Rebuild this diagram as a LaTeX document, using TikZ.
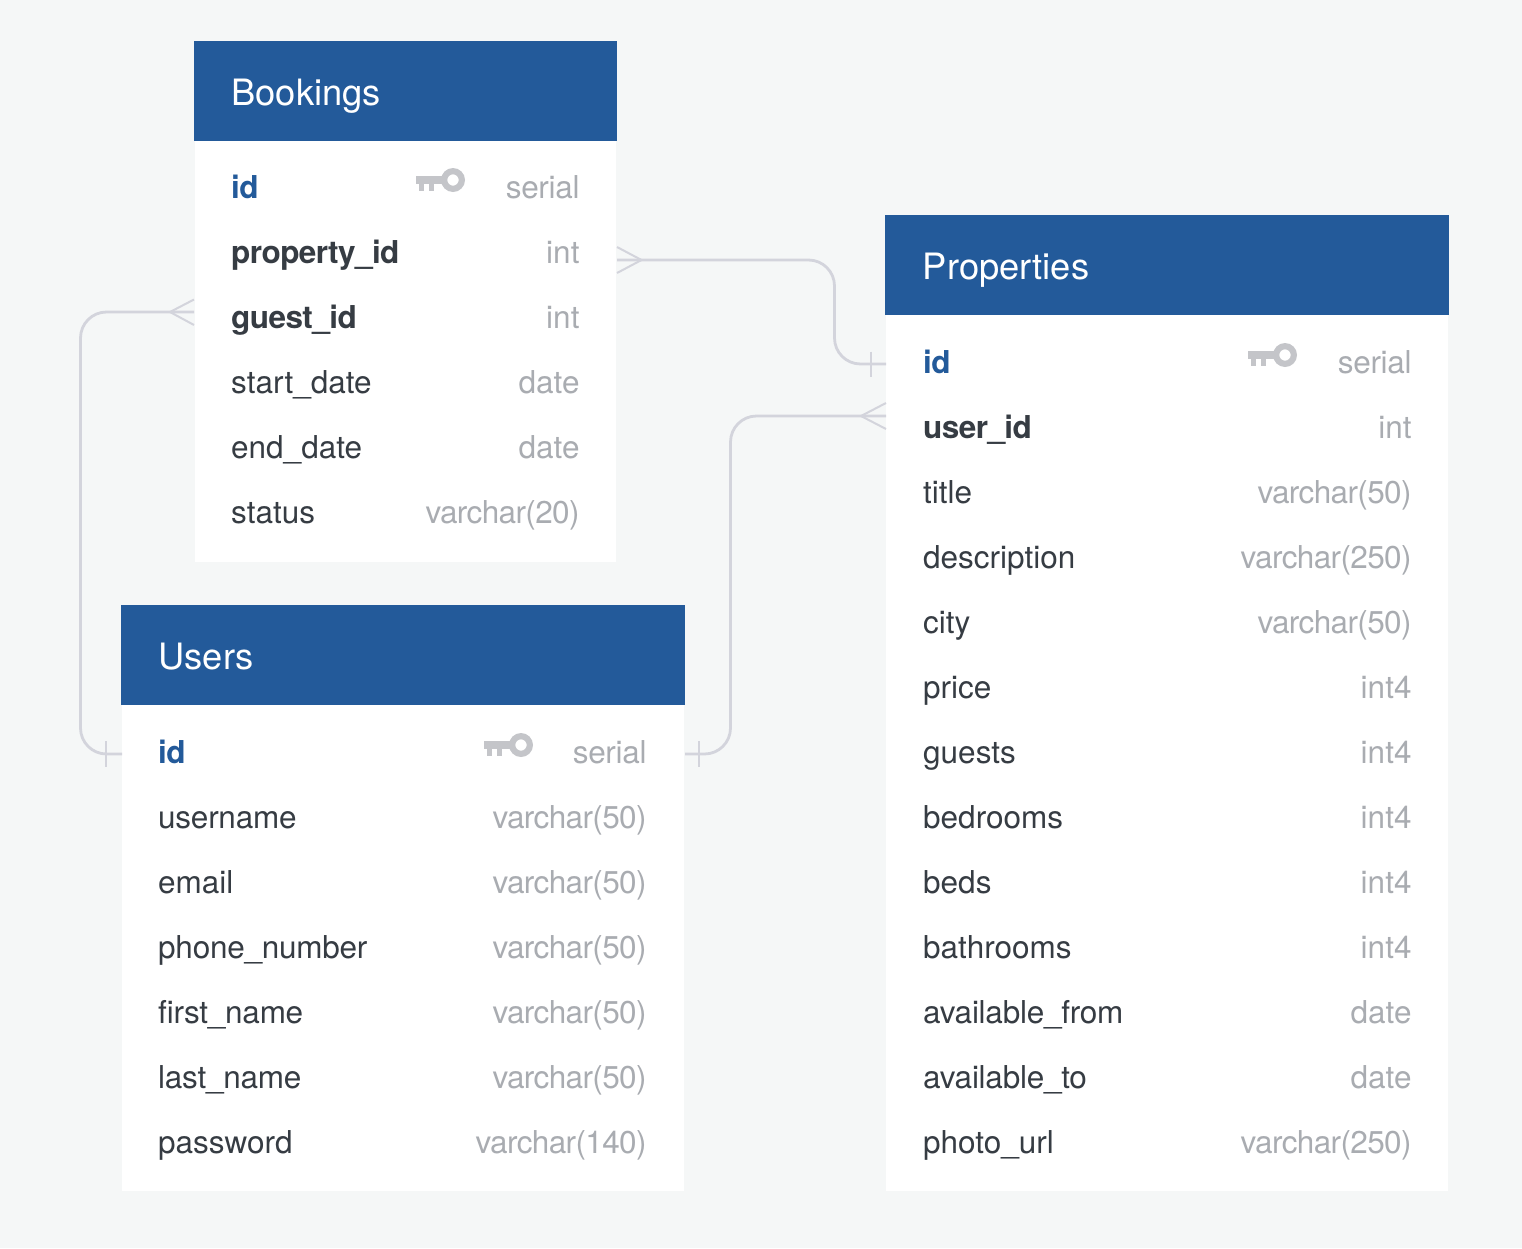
\documentclass[tikz,border=0pt]{standalone}
\usepackage{fontspec}
\setmainfont{TeX Gyre Heros}
\usetikzlibrary{positioning}
\definecolor{tablehead}{HTML}{235A9A}
\definecolor{pagebg}{HTML}{F5F7F7}
\definecolor{fieldtext}{HTML}{363C43}
\definecolor{typetext}{HTML}{A9ACB1}
\definecolor{linkline}{HTML}{D3D4DC}
\definecolor{keygrey}{HTML}{C4C5C9}
\tikzset{
    head/.style={
           rectangle,
           fill=tablehead,
           text=white,
           inner ysep=0pt,
           inner xsep=37.5pt,
           minimum height=100pt,
           text height=28pt,
           text depth=0pt,
           align=left,
           font=\fontsize{36.3}{40}\selectfont},
    tbody/.style={
           rectangle,
           fill=white,
           inner sep=0pt},
    fld/.style={
           anchor=base west,
           inner sep=0pt,
           text=fieldtext,
           font=\fontsize{31.5}{36}\selectfont},
    fk/.style={
           fld,
           font=\fontsize{31.5}{36}\selectfont\bfseries\addfontfeature{LetterSpace=-1.8}},
    pk/.style={
           fk,
           text=tablehead},
    typ/.style={
           anchor=base east,
           inner sep=0pt,
           text=typetext,
           font=\fontsize{31.5}{36}\selectfont},
    tight/.style={
           font=\fontsize{31.5}{36}\selectfont\addfontfeature{LetterSpace=#1}},
    link/.style={
           draw=linkline,
           line width=2.8pt,
           rounded corners=26pt},
    foot/.style={
           draw=linkline,
           line width=2pt},
    keyicon/.pic={
        \fill[keygrey, even odd rule] (0,0) circle (12) (0,0) circle (5.7);
        \fill[keygrey] (-37.5,-4) rectangle (-10,4);
        \fill[keygrey] (-34.5,4) rectangle (-29,11);
        \fill[keygrey] (-24.5,4) rectangle (-19,11);
    }
}

\begin{document}
\begin{tikzpicture}[x=1pt, y=-1pt]
        \useasboundingbox (0,0) rectangle (1522,1248);
        \fill[pagebg] (0,0) rectangle (1522,1248);

        % Bookings
        \node[head, text width=348pt] (bookings) at (405.5,91) {Bookings};
        \node[tbody, below=0pt of bookings, minimum width=421.5pt, minimum height=421pt] (bookings_body) {};
        \node[pk] (bk_id) at (231,198) {id};
        \node[fk] (bk_property) at (231,263) {property\_id};
        \node[fk] (bk_guest) at (231,328) {guest\_id};
        \node[fld] (bk_start) at (231,393) {start\_date};
        \node[fld] (bk_end) at (231,458) {end\_date};
        \node[fld] (bk_status) at (231,523) {status};
        \node[typ, tight=-1] (bk_id_t) at (579.7,198) {serial};
        \node[typ] (bk_property_t) at (579.7,263) {int};
        \node[typ] (bk_guest_t) at (579.7,328) {int};
        \node[typ] (bk_start_t) at (579.7,393) {date};
        \node[typ] (bk_end_t) at (579.7,458) {date};
        \node[typ, tight=-2] (bk_status_t) at (579.7,523) {varchar(20)};
        \pic at (453,180) {keyicon};

        % Users
        \node[head, text width=489pt] (users) at (403,655) {Users};
        \node[tbody, below=0pt of users, minimum width=562pt, minimum height=486pt] (users_body) {};
        \node[pk] (us_id) at (158,763) {id};
        \node[fld, tight=-0.8] (us_username) at (158,828) {username};
        \node[fld] (us_email) at (158,893) {email};
        \node[fld, tight=-0.8] (us_phone) at (158,958) {phone\_number};
        \node[fld, tight=-0.8] (us_first) at (158,1023) {first\_name};
        \node[fld, tight=-0.8] (us_last) at (158,1088) {last\_name};
        \node[fld] (us_password) at (158,1153) {password};
        \node[typ, tight=-1] (us_id_t) at (646.7,763) {serial};
        \node[typ, tight=-2] (us_username_t) at (646.7,828) {varchar(50)};
        \node[typ, tight=-2] (us_email_t) at (646.7,893) {varchar(50)};
        \node[typ, tight=-2] (us_phone_t) at (646.7,958) {varchar(50)};
        \node[typ, tight=-2] (us_first_t) at (646.7,1023) {varchar(50)};
        \node[typ, tight=-2] (us_last_t) at (646.7,1088) {varchar(50)};
        \node[typ, tight=-2] (us_password_t) at (646.7,1153) {varchar(140)};
        \pic at (521,745) {keyicon};

        % Properties
        \node[head, text width=488.5pt] (properties) at (1167.2,265) {Properties};
        \node[tbody, below=0pt of properties, minimum width=562pt, minimum height=876pt] (properties_body) {};
        \node[pk] (pr_id) at (923,373) {id};
        \node[fk] (pr_user) at (923,438) {user\_id};
        \node[fld] (pr_title) at (923,503) {title};
        \node[fld] (pr_description) at (923,568) {description};
        \node[fld] (pr_city) at (923,633) {city};
        \node[fld] (pr_price) at (923,698) {price};
        \node[fld] (pr_guests) at (923,763) {guests};
        \node[fld] (pr_bedrooms) at (923,828) {bedrooms};
        \node[fld] (pr_beds) at (923,893) {beds};
        \node[fld] (pr_bathrooms) at (923,958) {bathrooms};
        \node[fld, tight=-0.8] (pr_from) at (923,1023) {available\_from};
        \node[fld, tight=-0.8] (pr_to) at (923,1088) {available\_to};
        \node[fld] (pr_photo) at (923,1153) {photo\_url};
        \node[typ, tight=-1] (pr_id_t) at (1411.7,373) {serial};
        \node[typ] (pr_user_t) at (1411.7,438) {int};
        \node[typ, tight=-2] (pr_title_t) at (1411.7,503) {varchar(50)};
        \node[typ, tight=-2] (pr_description_t) at (1411.7,568) {varchar(250)};
        \node[typ, tight=-2] (pr_city_t) at (1411.7,633) {varchar(50)};
        \node[typ] (pr_price_t) at (1411.7,698) {int4};
        \node[typ] (pr_guests_t) at (1411.7,763) {int4};
        \node[typ] (pr_bedrooms_t) at (1411.7,828) {int4};
        \node[typ] (pr_beds_t) at (1411.7,893) {int4};
        \node[typ] (pr_bathrooms_t) at (1411.7,958) {int4};
        \node[typ] (pr_from_t) at (1411.7,1023) {date};
        \node[typ] (pr_to_t) at (1411.7,1088) {date};
        \node[typ, tight=-2] (pr_photo_t) at (1411.7,1153) {varchar(250)};
        \pic at (1285,355) {keyicon};

        % connector ends
        \coordinate (bk_out) at (617,260);
        \coordinate (pr_in) at (886,364);
        \coordinate (bk_left) at (194,312);
        \coordinate (us_left) at (122,754);
        \coordinate (us_right) at (685,754);
        \coordinate (pr_left) at (886,416);

        \draw[link] (bk_out) -| (834.5,312) |- (pr_in);
        \draw[link] (bk_left) -| (80.5,533) |- (us_left);
        \draw[link] (us_right) -| (730.5,585) |- (pr_left);

        % crow feet
        \draw[foot] (617,247) -- (641.5,260) -- (617,273);
        \draw[foot] (194,299.5) -- (170,312) -- (194,325);
        \draw[foot] (886,403) -- (861,416) -- (886,429);

        % single bars
        \draw[foot] (871,351.5) -- (871,377);
        \draw[foot] (106,741) -- (106,767);
        \draw[foot] (699,741) -- (699,767);
\end{tikzpicture}
\end{document}
